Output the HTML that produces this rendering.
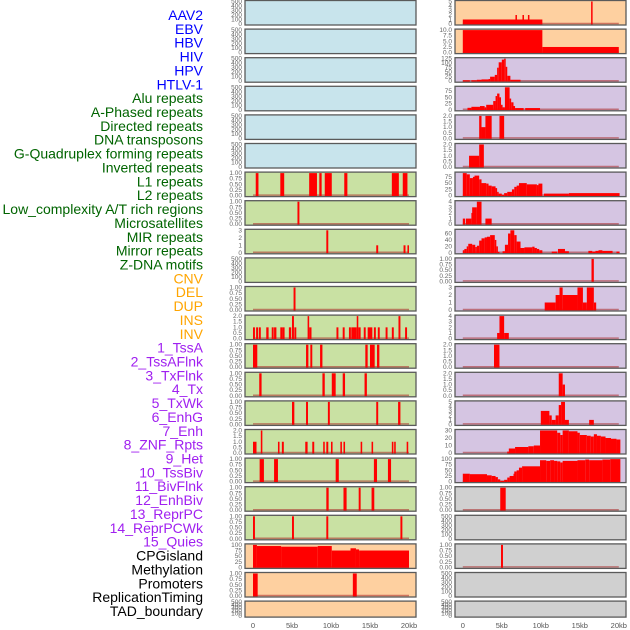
<!DOCTYPE html>
<html><head><meta charset="utf-8"><style>
html,body{margin:0;padding:0;background:#fff;width:630px;height:630px;overflow:hidden}
svg{display:block;font-family:"Liberation Sans",sans-serif}
</style></head><body>
<svg id="chart" width="630" height="630" viewBox="0 0 630 630" xmlns="http://www.w3.org/2000/svg"></svg>
<script>
// ---------- data ----------
const trackLabels = ["AAV2","EBV","HBV","HIV","HPV","HTLV-1","Alu repeats","A-Phased repeats","Directed repeats","DNA transposons","G-Quadruplex forming repeats","Inverted repeats","L1 repeats","L2 repeats","Low_complexity A/T rich regions","Microsatellites","MIR repeats","Mirror repeats","Z-DNA motifs","CNV","DEL","DUP","INS","INV","1_TssA","2_TssAFlnk","3_TxFlnk","4_Tx","5_TxWk","6_EnhG","7_Enh","8_ZNF_Rpts","9_Het","10_TssBiv","11_BivFlnk","12_EnhBiv","13_ReprPC","14_ReprPCWk","15_Quies","CPGisland","Methylation","Promoters","ReplicationTiming","TAD_boundary"];
const labelGroups = [6,13,5,15,5];
const groupColors = ["#0000ff","#006400","#ffa500","#a020f0","#000000"];
const xTickValues = [0,5,10,15,20];
const xTickLabels = ["0","5kb","10kb","15kb","20kb"];

const T500=["0","100","200","300","400","500"], T1=["0.00","0.25","0.50","0.75","1.00"], T2=["0.0","0.5","1.0","1.5","2.0"];
const leftTicks = [T500,T500,T500,T500,T500,T500,T1,T1,["0","1","2","3"],T500,T1,T2,T1,T1,T1,T2,T1,T1,T1,["0","25","50","75","100"],T1,T500];
const rightTicks = [["0","1","2","3","4","5"],["0.0","2.5","5.0","7.5","10.0"],["0","25","50","75","100","125"],["0","25","50","75"],T2,T2,["0","25","50","75"],["0","1","2","3","4"],["0","20","40","60"],T1,["0","1","2","3"],["0","1","2","3","4"],T2,T2,["0","1","2","3","4","5"],["0","10","20","30"],["0","25","50","75","100"],T1,T500,T1,T500,T500];
const leftBg = ["b","b","b","b","b","b","g","g","g","g","g","g","g","g","g","g","g","g","g","o","o","o"];
const rightBg = ["o","o","p","p","p","p","p","p","p","p","p","p","p","p","p","p","p","k","k","k","k","k"];

const leftSegs = [[],[],[],[],[],[],
[[0.35,0.7,1],[3.5,4,1],[7.2,8.2,1],[8.5,8.8,1],[9.2,10.1,1],[11.7,12.1,1],[17.8,18.7,1],[19.2,19.8,1]],
[[5.7,5.95,1]],
[[9.4,9.65,3],[15.8,16.05,1],[19.3,19.55,1],[19.8,20,1]],
[],
[[5.2,5.45,1]],
[[0,0.25,1],[0.4,0.65,1],[0.75,1.0,1],[1.7,2.0,1],[2.4,2.65,1],[2.7,3.0,1],[3.5,3.8,1],[3.8,4.05,1],[4.6,4.9,1],[5.0,5.25,2],[5.3,5.55,1],[7.0,7.2,2],[7.2,7.5,1],[10.7,10.95,1],[11.5,11.75,1],[12.3,12.55,1],[12.6,13.3,1],[13.3,13.5,2],[13.5,13.8,1],[14.2,14.45,1],[14.7,15.0,1],[15.0,15.3,1],[15.5,15.75,1],[16.0,16.25,1],[17.0,17.25,1],[17.8,18.05,1],[18.65,18.9,2],[19.5,19.75,1]],
[[0,0.55,1],[6.8,7.1,1],[7.35,7.6,1],[8.6,8.9,1],[14.4,14.7,1],[15,15.6,1],[15.9,16.2,1]],
[[0.8,1.1,1],[8.9,9.2,1],[10.1,10.6,1],[11.5,11.8,1],[14.3,14.6,1]],
[[5,5.3,1],[6.8,7.05,1],[9.6,9.85,1],[15.8,16.05,1],[18.6,18.9,1]],
[[0,0.45,1],[1.0,1.2,2],[3.2,3.4,1],[3.7,3.95,1],[6.7,7.0,1],[7.6,7.85,1],[9.0,9.2,1],[9.4,9.65,1],[10.0,10.2,1],[11.2,11.4,1],[11.6,11.8,1],[13.8,14.0,1],[15.2,15.4,1],[17.8,18.0,1],[18.1,18.3,1],[19.7,19.9,1]],
[[0.85,1.4,1],[2.7,3.2,1],[10.6,11.0,1],[15.5,15.9,1],[17.3,17.7,1]],
[[9.4,9.7,1],[11.6,12.0,1],[13.55,13.8,1],[15.2,15.55,1]],
[[0,0.25,1],[5.0,5.25,1],[9.4,9.65,1],[18.9,19.15,1]],
[[0,0.5,100],[0.5,3.6,95],[3.6,8.3,92],[8.3,10.1,95],[10.1,12.5,75],[12.5,13.2,85],[13.2,13.6,80],[13.6,20,75]],
[[0,0.6,1],[12.8,13.3,1]],
[]];

const rightSegs = [
[[0,10.2,1],[6.75,6.9,2],[7.65,7.8,2],[8.35,8.5,2],[16.45,16.6,5]],
[[0,10.2,10],[10.2,20,2.5]],
[[0,0.9,5],[1.1,1.8,5],[1.8,2.4,8],[2.4,3.3,10],[3.3,3.5,12],[3.5,4.1,25],[4.1,4.4,35],[4.4,4.6,75],[4.6,5.0,105],[5.0,5.3,120],[5.3,5.5,125],[5.5,5.7,80],[5.7,6.1,30],[6.1,7.4,8]],
[[0.6,1.1,8],[1.1,2.2,12],[2.2,2.8,15],[2.8,3.0,10],[3.0,3.9,20],[3.9,4.2,35],[4.2,4.4,55],[4.4,4.7,65],[4.7,4.9,50],[4.9,5.1,20],[5.1,5.4,10],[5.4,6.0,90],[6.0,6.2,45],[6.2,6.5,30],[6.5,6.7,15],[6.7,7.8,7],[8.0,9.9,7]],
[[2.1,2.4,2],[2.4,2.9,1],[2.9,3.7,2],[4.7,5.3,2]],
[[0.8,2.1,1],[2.1,2.7,2]],
[[0,0.5,90],[0.5,0.9,85],[0.9,1.3,70],[1.3,1.5,75],[1.5,2.1,80],[2.1,2.4,65],[2.4,3.0,50],[3.0,3.3,48],[3.3,3.7,40],[3.7,4.2,37],[4.2,4.4,30],[4.4,4.6,15],[4.6,5.0,8],[5.0,5.3,3],[5.3,5.7,10],[5.7,6.3,15],[6.3,6.6,25],[6.6,6.9,35],[6.9,7.2,40],[7.2,8.2,50],[8.2,9.5,45],[9.5,9.7,42],[9.7,10.2,48],[10.4,13.6,8],[13.6,20.1,10]],
[[0,0.3,1],[0.4,1.1,1],[1.1,1.2,2],[1.2,1.8,3],[1.8,2.4,4],[2.9,3.7,1]],
[[0,0.2,8],[0.2,0.5,12],[0.5,0.7,20],[0.7,1.2,28],[1.2,1.6,25],[1.6,1.8,18],[1.8,2.1,22],[2.1,2.4,38],[2.4,2.8,45],[2.8,3.1,48],[3.1,3.5,50],[3.5,4.1,55],[4.1,4.3,40],[4.3,4.5,20],[4.5,4.6,3],[5.1,5.4,5],[5.4,5.8,25],[5.8,6.1,60],[6.1,6.6,70],[6.6,6.9,55],[6.9,7.4,35],[7.4,7.9,15],[7.9,8.9,17],[8.9,9.2,19],[9.2,9.5,15],[9.5,9.8,12],[9.8,10.2,8],[11.4,12.1,4],[12.2,13.1,12],[13.1,13.6,5],[16.1,16.6,6],[16.6,17.0,4],[17.0,17.4,6],[17.4,17.9,8],[17.9,19.2,6],[19.7,20.1,4]],
[[16.5,16.8,1]],
[[10.5,11.9,1],[11.9,12.4,2],[12.4,12.8,3],[12.8,14.7,2],[14.7,15.4,3],[15.4,15.9,1],[15.9,16.8,3],[16.8,17.1,1]],
[[4.4,4.7,1],[4.7,5.3,4],[5.3,5.9,1]],
[[4.0,4.7,2]],
[[12.3,12.8,2],[12.8,13.1,1]],
[[10.0,11.1,3],[11.1,11.4,2],[11.4,11.9,1],[11.9,12.3,2],[12.3,12.6,4.3],[12.6,13.1,5],[13.1,13.6,1],[16.2,16.8,1]],
[[5.7,5.9,2],[5.9,6.7,6],[6.7,8.4,8],[8.4,9.1,9],[9.1,9.9,10],[9.9,12.1,30],[12.1,12.5,27],[12.5,12.8,24],[12.8,13.6,30],[13.6,14.7,29],[14.7,15.0,27],[15.0,15.9,24],[15.9,16.4,23],[16.4,16.8,22],[16.8,17.2,25],[17.2,17.7,23],[17.7,18.3,22],[18.3,19.0,20],[19.0,19.7,19],[19.7,20.2,18]],
[[0,0.9,35],[0.9,3.1,33],[3.1,3.7,28],[3.7,4.2,25],[4.2,4.5,20],[4.5,4.8,10],[4.8,5.3,3],[5.3,5.7,8],[5.7,6.0,18],[6.0,6.5,25],[6.5,6.6,35],[6.6,6.9,45],[6.9,7.2,50],[7.2,7.6,62],[7.6,9.9,68],[9.9,10.7,95],[10.7,11.2,92],[11.2,11.7,95],[11.7,12.1,92],[12.1,12.5,90],[12.5,12.8,85],[12.8,14.7,92],[14.7,15.7,95],[15.7,16.2,98],[16.2,17.9,95],[17.9,18.9,98],[18.9,20.2,100]],
[[4.8,5.5,1]],
[],
[[4.9,5.15,1]],
[],[]];

// ---------- drawing ----------
const NS="http://www.w3.org/2000/svg";
const svg=document.getElementById("chart");
const bgColors={b:"#c8e4ec",g:"#c9e1a3",o:"#fed0a0",p:"#d5c5e2",k:"#d0d0d0"};
const ROWS=22, PITCH=28.6;
function mk(tag,attrs){const e=document.createElementNS(NS,tag);for(const k in attrs)e.setAttribute(k,attrs[k]);svg.appendChild(e);return e;}
function rowTop(r){return r*PITCH+0.5;}
function rowH(r){return r===ROWS-1?16:24.5;}
function xScale(col,kb){return (col===0?253:462.8)+kb*7.8;}
function yScale(r,v,vmax){const t=rowTop(r)+1,b=rowTop(r)+rowH(r)-1;return b-(v/vmax)*(b-t);}

function drawPanel(col,r,segs,ticks,bg){
  const px=col===0?245:455, pw=171, top=rowTop(r), h=rowH(r);
  const side=col===0?"left":"right";
  const bgRect=mk("rect",{x:px,y:top,width:pw,height:h,fill:bgColors[bg]});
  
  
  let vmax=parseFloat(ticks[ticks.length-1]);
  segs.forEach(s=>{if(s[2]>vmax)vmax=s[2];});
  if(segs.length){
    const base=mk("line",{x1:xScale(col,0),x2:xScale(col,20),y1:top+h-1.5,y2:top+h-1.5,stroke:"rgba(170,40,40,0.55)","stroke-width":1.5});
    
    
  }
  segs.forEach((s,i)=>{
    const x1=xScale(col,s[0]),x2=xScale(col,s[1]);
    const y=yScale(r,s[2],vmax), yb=top+h-0.5;
    const bar=mk("rect",{x:x1,y:y,width:Math.max(x2-x1,1.5),height:Math.max(yb-y,0),fill:"#ff0000"});
    
    
  });
  const border=mk("rect",{x:px,y:top,width:pw,height:h,fill:"none",stroke:"#5a5a5a","stroke-width":1.3});
  
  
  ticks.forEach(t=>{
    const tx=mk("text",{x:px-3,y:yScale(r,parseFloat(t),vmax)+2,"font-size":6.5,fill:"#666","text-anchor":"end"});
    tx.textContent=t;
    
    
  });
}
for(let r=0;r<ROWS;r++){
  drawPanel(0,r,leftSegs[r],leftTicks[r],leftBg[r]);
  drawPanel(1,r,rightSegs[r],rightTicks[r],rightBg[r]);
}
let k=0;
labelGroups.forEach((n,g)=>{
  for(let j=0;j<n;j++){
    const t=mk("text",{x:203,y:15+k*13.86+5,"font-size":14,fill:groupColors[g],"text-anchor":"end"});
    t.textContent=trackLabels[k];
    
    
    k++;
  }
});
[0,1].forEach(col=>{
  xTickValues.forEach((v,i)=>{
    const t=mk("text",{x:xScale(col,v),y:628,"font-size":7.5,fill:"#555","text-anchor":"middle"});
    t.textContent=xTickLabels[i];
    
    
  });
});
</script>
</body></html>
